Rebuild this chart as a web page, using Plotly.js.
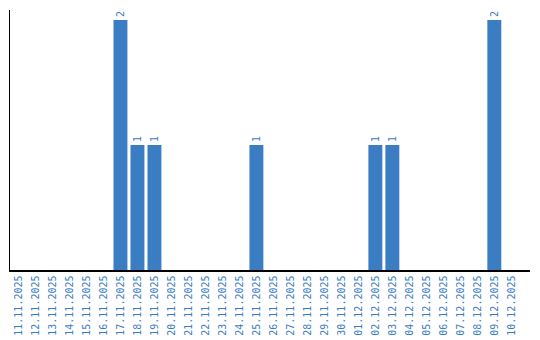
<!DOCTYPE html>
<html><head><meta charset="utf-8">
<script src="https://cdn.plot.ly/plotly-3.0.1.min.js"></script>
<style>body{margin:0}#c{width:540px;height:340px}</style>
</head><body><div id="c"></div>
<script>
const dates = ["11.11.2025","12.11.2025","13.11.2025","14.11.2025","15.11.2025","16.11.2025","17.11.2025","18.11.2025","19.11.2025","20.11.2025","21.11.2025","22.11.2025","23.11.2025","24.11.2025","25.11.2025","26.11.2025","27.11.2025","28.11.2025","29.11.2025","30.11.2025","01.12.2025","02.12.2025","03.12.2025","04.12.2025","05.12.2025","06.12.2025","07.12.2025","08.12.2025","09.12.2025","10.12.2025"];
const counts = [0,0,0,0,0,0,2,1,1,0,0,0,0,0,1,0,0,0,0,0,0,1,1,0,0,0,0,0,2,0];
const labels = counts.map(v => v > 0 ? String(v) : "");
const blue = "#3a7dc2";
Plotly.newPlot("c", [{
  type: "bar", x: dates, y: counts, text: labels,
  textposition: "outside", textangle: -90, cliponaxis: false,
  textfont: {family: "DejaVu Sans Mono", size: 10, color: blue},
  marker: {color: blue}, width: 0.82, hoverinfo: "none"
}], {
  width: 540, height: 340,
  margin: {l: 10, r: 10, t: 10, b: 70},
  paper_bgcolor: "white", plot_bgcolor: "white",
  showlegend: false,
  xaxis: {type: "category", range: [-0.5, 30.1], tickangle: -90,
    tickfont: {family: "DejaVu Sans Mono", size: 10, color: blue},
    showline: true, linecolor: "black", linewidth: 1.5, ticks: "", showgrid: false, zeroline: false},
  yaxis: {range: [0, 2.08], showticklabels: false, showline: true, linecolor: "black", linewidth: 1.5,
    ticks: "", showgrid: false, zeroline: false}
}, {staticPlot: true});
</script></body></html>
